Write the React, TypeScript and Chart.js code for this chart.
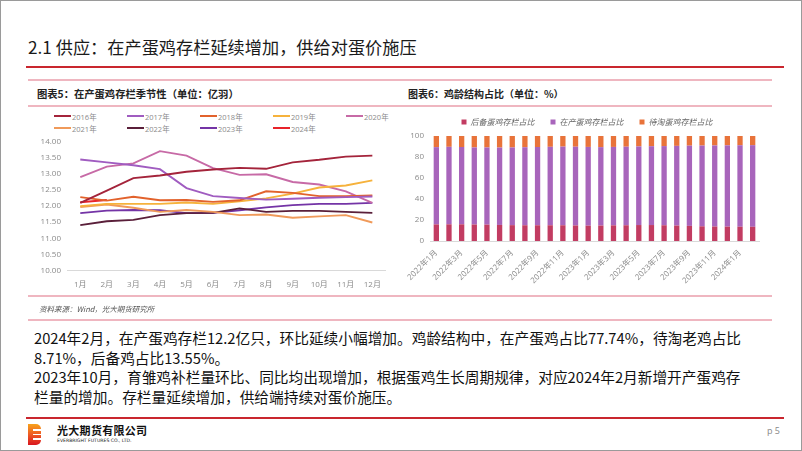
import React, { useEffect, useRef } from "react";
import { Chart, registerables } from "chart.js";

Chart.register(...registerables);

// ---------- Chart 5: seasonal laying-hen inventory (亿羽) ----------
const months = ["1月", "2月", "3月", "4月", "5月", "6月", "7月", "8月", "9月", "10月", "11月", "12月"];
const years = ["2016年", "2017年", "2018年", "2019年", "2020年", "2021年", "2022年", "2023年", "2024年"];
const yearColors = ["#a4243b", "#a05cc0", "#e2622c", "#f6b23c", "#c76aa6", "#f09a5a", "#5a1f3a", "#7434a6", "#e8232a"];
const s2016 = [12.1, 12.48, 12.87, 12.95, 13.07, 13.14, 13.19, 13.16, 13.36, 13.44, 13.54, 13.57];
const s2017 = [13.45, 13.36, 13.27, 13.15, 12.56, 12.31, 12.25, 12.2, 12.23, 12.26, 12.28, 12.3];
const s2018 = [12.28, 12.17, 12.29, 12.18, 12.19, 12.13, 12.18, 12.46, 12.41, 12.31, 12.31, 12.33];
const s2019 = [12.0, 12.07, 12.07, 12.07, 12.11, 12.07, 12.15, 12.24, 12.39, 12.58, 12.64, 12.8];
const s2020 = [12.9, 13.23, 13.33, 13.71, 13.57, 13.18, 12.97, 12.99, 12.75, 12.67, 12.46, 12.1];
const s2021 = [11.97, 12.05, 11.95, 11.82, 11.88, 11.82, 11.72, 11.74, 11.64, 11.68, 11.72, 11.49];
const s2022 = [11.41, 11.53, 11.57, 11.72, 11.78, 11.79, 11.93, 11.82, 11.85, 11.85, 11.82, 11.79];
const s2023 = [11.78, 11.86, 11.88, 11.87, 11.78, 11.79, 11.87, 11.96, 12.03, 12.07, 12.07, 12.1];
const s2024 = [12.12, 12.19];
const seasonalSeries = [s2016, s2017, s2018, s2019, s2020, s2021, s2022, s2023, s2024];
const seasonalMin = 10;
const seasonalMax = 14;
const seasonalStep = 0.5;

// ---------- Chart 6: flock age structure (%) ----------
const barMonths = [
  "2022年1月", "2022年2月", "2022年3月", "2022年4月", "2022年5月", "2022年6月",
  "2022年7月", "2022年8月", "2022年9月", "2022年10月", "2022年11月", "2022年12月",
  "2023年1月", "2023年2月", "2023年3月", "2023年4月", "2023年5月", "2023年6月",
  "2023年7月", "2023年8月", "2023年9月", "2023年10月", "2023年11月", "2023年12月",
  "2024年1月", "2024年2月",
];
const reservePct = [15.8, 15.9, 15.9, 15.7, 15.6, 15.3, 15.1, 15.0, 15.0, 15.0, 15.0, 14.8, 14.6, 14.7, 14.9, 15.0, 15.2, 15.2, 15.0, 14.7, 14.4, 14.0, 13.8, 13.7, 13.6, 13.55];
const layingPct = [73.6, 73.8, 73.6, 73.4, 73.5, 73.7, 74.0, 74.3, 74.5, 74.7, 74.9, 75.0, 75.0, 74.7, 74.7, 74.8, 74.9, 75.1, 75.4, 75.9, 76.4, 76.9, 77.2, 77.4, 77.6, 77.74];
const cullPct = [10.6, 10.3, 10.5, 10.9, 10.9, 11.0, 10.9, 10.7, 10.5, 10.3, 10.1, 10.2, 10.4, 10.6, 10.4, 10.2, 9.9, 9.7, 9.6, 9.4, 9.2, 9.1, 9.0, 8.9, 8.8, 8.71];
const barSeriesNames = ["后备蛋鸡存栏占比", "在产蛋鸡存栏占比", "待淘蛋鸡存栏占比"];
const barColors = ["#c23c62", "#a865bb", "#e8733a"];

const tickFont = { family: "'Open Sans', 'Noto Sans CJK SC', sans-serif", size: 8 };
const tickColor = "#8a8a8a";

function SeasonalChart() {
  const ref = useRef<HTMLCanvasElement | null>(null);
  useEffect(() => {
    if (!ref.current) return;
    const chart = new Chart(ref.current, {
      type: "line",
      data: {
        labels: months,
        datasets: years.map((y, i) => ({
          label: y,
          data: seasonalSeries[i],
          borderColor: yearColors[i],
          backgroundColor: yearColors[i],
          borderWidth: 1.9,
          pointRadius: 0,
          tension: 0,
          fill: false,
        })),
      },
      options: {
        responsive: false,
        animation: false,
        devicePixelRatio: 1,
        layout: { padding: { left: 4, right: 2, top: 10, bottom: 6 } },
        plugins: { legend: { display: false }, tooltip: { enabled: false } },
        scales: {
          x: {
            offset: true,
            grid: { display: false, drawTicks: false },
            border: { display: true, color: "#d9d9d9" },
            ticks: { font: tickFont, color: tickColor, padding: 10, maxRotation: 0, autoSkip: false },
          },
          y: {
            min: seasonalMin,
            max: seasonalMax,
            grid: { display: false, drawTicks: false },
            border: { display: false },
            ticks: {
              stepSize: seasonalStep,
              font: tickFont,
              color: tickColor,
              padding: 6,
              callback: (v: any) => Number(v).toFixed(2),
            },
            afterFit: (s: any) => {
              s.width = 42;
            },
          },
        },
      },
    });
    return () => chart.destroy();
  }, []);
  return (
    <canvas
      ref={ref}
      width={370}
      height={175}
      style={{ position: "absolute", left: 20, top: 130, width: 370, height: 175 }}
    />
  );
}

function StructureChart() {
  const ref = useRef<HTMLCanvasElement | null>(null);
  useEffect(() => {
    if (!ref.current) return;
    const series = [reservePct, layingPct, cullPct];
    const chart = new Chart(ref.current, {
      type: "bar",
      data: {
        labels: barMonths,
        datasets: barSeriesNames.map((n, i) => ({
          label: n,
          data: series[i],
          backgroundColor: barColors[i],
          borderWidth: 0,
          categoryPercentage: 1,
          barPercentage: 0.42,
        })),
      },
      options: {
        responsive: false,
        animation: false,
        devicePixelRatio: 1,
        layout: { padding: { left: 0, right: 3, top: 0, bottom: 0 } },
        plugins: {
          tooltip: { enabled: false },
          legend: {
            display: true,
            position: "top",
            align: "center",
            labels: {
              boxWidth: 5,
              boxHeight: 5,
              padding: 16,
              color: "#666",
              font: { family: "'Noto Sans CJK SC', sans-serif", size: 8, style: "italic" },
            },
          },
        },
        scales: {
          x: {
            stacked: true,
            grid: { display: false, drawTicks: false },
            border: { display: true, color: "#d9d9d9" },
            ticks: {
              font: { family: "'Open Sans', 'Noto Sans CJK SC', sans-serif", size: 8 },
              color: tickColor,
              autoSkip: false,
              maxRotation: 45,
              minRotation: 45,
              padding: 7,
              callback: (_v: any, i: number) => (i % 2 === 0 ? barMonths[i] : ""),
            },
            afterFit: (s: any) => {
              s.height = 50;
            },
          },
          y: {
            stacked: true,
            min: 0,
            max: 100,
            grid: { display: false, drawTicks: false },
            border: { display: false },
            ticks: { stepSize: 10, font: tickFont, color: tickColor, padding: 6 },
            afterFit: (s: any) => {
              s.width = 39;
            },
          },
          spacer: {
            type: "linear",
            position: "right",
            display: true,
            grid: { display: false, drawTicks: false },
            border: { display: false },
            ticks: { display: false },
            afterFit: (s: any) => {
              s.width = 24;
            },
          },
        },
      },
    });
    return () => chart.destroy();
  }, []);
  return (
    <canvas
      ref={ref}
      width={395}
      height={189}
      style={{ position: "absolute", left: 390, top: 101, width: 395, height: 189 }}
    />
  );
}

const cjk = "'Noto Sans CJK SC', 'Noto Sans', sans-serif";

export default function App() {
  useEffect(() => {
    document.body.style.margin = "0";
  }, []);
  const pink = "#efb6c0";
  return (
    <div
      style={{
        position: "fixed",
        left: 0,
        top: 0,
        width: 802,
        height: 451,
        boxSizing: "border-box",
        border: "1px solid #9a9a9a",
        background: "#fff",
        overflow: "hidden",
        fontFamily: cjk,
      }}
    >
      {/* Title */}
      <div style={{ position: "absolute", left: 27, top: 35, fontSize: 17.2, color: "#1a1a1a", whiteSpace: "nowrap", lineHeight: "22px" }}>
        2.1 供应：在产蛋鸡存栏延续增加，供给对蛋价施压
      </div>
      <div style={{ position: "absolute", left: 25, top: 65, width: 758, height: 2, background: "#c9262e" }} />
      <div style={{ position: "absolute", left: 27, top: 78, width: 744, height: 1.5, background: pink }} />

      {/* Chart titles */}
      <div style={{ position: "absolute", left: 36, top: 86, fontSize: 10.3, fontWeight: 700, color: "#222", whiteSpace: "nowrap", lineHeight: "14px" }}>
        图表5：在产蛋鸡存栏季节性（单位：亿羽）
      </div>
      <div style={{ position: "absolute", left: 407, top: 86, fontSize: 10, fontWeight: 700, color: "#222", whiteSpace: "nowrap", lineHeight: "14px" }}>
        图表6：鸡龄结构占比（单位：%）
      </div>
      <div style={{ position: "absolute", left: 27, top: 104, width: 744, height: 1.5, background: pink }} />

      {/* Legend for chart 5 */}
      {years.map((y, i) => {
        const col = i % 5;
        const row = Math.floor(i / 5);
        return (
          <div
            key={y}
            style={{
              position: "absolute",
              left: 53 + col * 73,
              top: 110 + row * 12,
              height: 10,
              display: "flex",
              alignItems: "center",
              whiteSpace: "nowrap",
            }}
          >
            <div style={{ width: 17, height: 2, background: yearColors[i] }} />
            <span style={{ fontSize: 7.5, color: "#8a8a8a", marginLeft: 1, fontFamily: "'Open Sans', 'Noto Sans CJK SC', sans-serif" }}>{y}</span>
          </div>
        );
      })}

      <SeasonalChart />
      <StructureChart />

      <div style={{ position: "absolute", left: 27, top: 294, width: 744, height: 1.5, background: pink }} />
      <div style={{ position: "absolute", left: 38, top: 302, fontSize: 7.5, fontStyle: "italic", color: "#555", whiteSpace: "nowrap", lineHeight: "12px" }}>
        资料来源：Wind，光大期货研究所
      </div>
      <div style={{ position: "absolute", left: 27, top: 318, width: 744, height: 1.5, background: pink }} />

      {/* Body text */}
      <div style={{ position: "absolute", left: 33, top: 327, fontSize: 14.7, color: "#111", lineHeight: "19.7px", whiteSpace: "nowrap" }}>
        <div>2024年2月，在产蛋鸡存栏12.2亿只，环比延续小幅增加。鸡龄结构中，在产蛋鸡占比77.74%，待淘老鸡占比</div>
        <div>8.71%，后备鸡占比13.55%。</div>
        <div>2023年10月，育雏鸡补栏量环比、同比均出现增加，根据蛋鸡生长周期规律，对应2024年2月新增开产蛋鸡存</div>
        <div>栏量的增加。存栏量延续增加，供给端持续对蛋价施压。</div>
      </div>

      {/* Footer */}
      <div style={{ position: "absolute", left: 25, top: 416, width: 758, height: 2, background: "#c9262e" }} />
      <div
        style={{
          position: "absolute",
          left: 27,
          top: 423,
          width: 13,
          height: 21,
          background: "linear-gradient(180deg, #f7a21b 0%, #ee5a24 50%, #d9161f 100%)",
          borderRadius: "0 5px 5px 0",
        }}
      >
        <div style={{ position: "absolute", left: 5, top: 5, width: 8, height: 1.5, background: "#fff" }} />
        <div style={{ position: "absolute", left: 5, top: 9.5, width: 8, height: 1.5, background: "#fff" }} />
        <div style={{ position: "absolute", left: 5, top: 14, width: 8, height: 1.5, background: "#fff" }} />
      </div>
      <div style={{ position: "absolute", left: 56, top: 423, fontSize: 11, fontWeight: 700, color: "#111", whiteSpace: "nowrap", lineHeight: "13px", letterSpacing: 0.3 }}>
        光大期货有限公司
      </div>
      <div style={{ position: "absolute", left: 56, top: 437, fontSize: 4.6, color: "#222", whiteSpace: "nowrap", lineHeight: "6px", fontFamily: "'DejaVu Sans', sans-serif" }}>
        EVERBRIGHT FUTURES CO., LTD.
      </div>
      <div style={{ position: "absolute", left: 766, top: 424, fontSize: 9, color: "#888", whiteSpace: "nowrap", lineHeight: "12px", fontFamily: "'Open Sans', sans-serif" }}>
        p 5
      </div>
    </div>
  );
}
